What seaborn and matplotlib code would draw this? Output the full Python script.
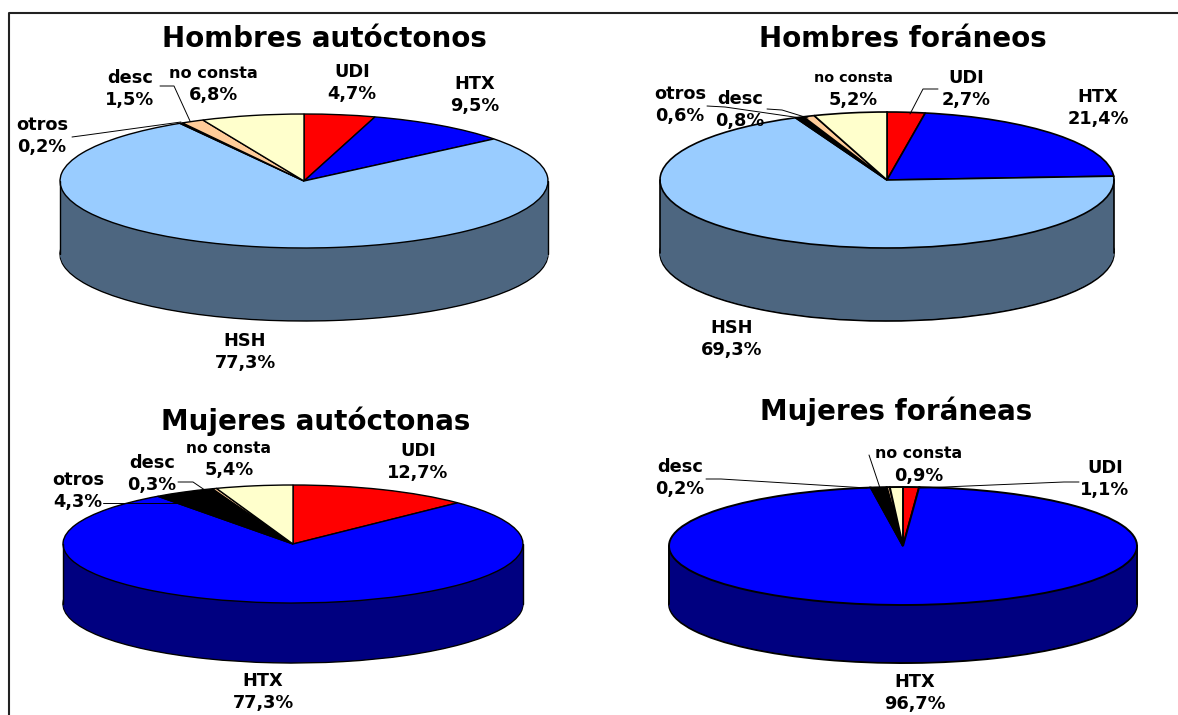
import numpy as np
import seaborn as sns
import matplotlib.pyplot as plt
from matplotlib.lines import Line2D

W, H = 1178, 715

# data, clockwise from 12 o'clock
cats_h = ["UDI", "HTX", "HSH", "otros", "desc", "no consta"]
cats_m = ["UDI", "HTX", "otros", "desc", "no consta"]
vals_ha = [4.7, 9.5, 77.3, 0.2, 1.5, 6.8]
vals_hf = [2.7, 21.4, 69.3, 0.6, 0.8, 5.2]
vals_ma = [12.7, 77.3, 4.3, 0.3, 5.4]
vals_mf = [1.1, 96.7, 1.1, 0.2, 0.9]  # otros has no label
txt_ha = ["4,7%", "9,5%", "77,3%", "0,2%", "1,5%", "6,8%"]
txt_hf = ["2,7%", "21,4%", "69,3%", "0,6%", "0,8%", "5,2%"]
txt_ma = ["12,7%", "77,3%", "4,3%", "0,3%", "5,4%"]
txt_mf = ["1,1%", "96,7%", None, "0,2%", "0,9%"]

top_col = {"UDI": "#FF0000", "HTX": "#0000FF", "HSH": "#99CCFF", "otros": "#000000",
           "desc": "#FFCC99", "no consta": "#FFFFCC"}
side_col = {"UDI": "#800000", "HTX": "#000080", "HSH": "#4D6680", "otros": "#000000",
            "desc": "#806650", "no consta": "#808066"}

# layout in pixels of the picture
charts = [
    dict(title="Hombres autóctonos", tpos=(324, 39), cats=cats_h, vals=vals_ha, txt=txt_ha,
         c=(304, 181), rx=244, ry=67, depth=73, lw=1.0, nc_size=11.6,
         pos=[(352, 83), (475, 95), (245, 352), (42, 136), (130, 89), (213, 84)],
         leaders=[[(72, 137), (87, 135), (181, 122)], [(160, 86), (174, 86), (190, 121)]]),
    dict(title="Hombres foráneos", tpos=(903, 39), cats=cats_h, vals=vals_hf, txt=txt_hf,
         c=(887, 180), rx=227, ry=68, depth=73, lw=1.2, nc_size=10.4,
         pos=[(966, 89), (1098, 108), (732, 339), (680, 105), (740, 110), (853, 89)],
         leaders=[[(707, 106), (725, 107), (801, 118)], [(767, 109), (782, 110), (808, 118)],
                  [(938, 89), (923, 89), (910, 114)]]),
    dict(title="Mujeres autóctonas", tpos=(316, 421), cats=cats_m, vals=vals_ma, txt=txt_ma,
         c=(293, 544), rx=230, ry=59, depth=60, lw=1.0, nc_size=11.2,
         pos=[(418, 462), (263, 692), (78, 491), (152, 474), (229, 459)],
         leaders=[[(103, 503), (120, 503), (186, 503)], [(178, 482), (193, 482), (218, 499)]]),
    dict(title="Mujeres foráneas", tpos=(896, 411), cats=cats_m, vals=vals_mf, txt=txt_mf,
         c=(903, 546), rx=234, ry=59, depth=58, lw=1.4, nc_size=11.4,
         pos=[(1105, 479), (915, 693), None, (680, 478), (919, 465)],
         leaders=[[(706, 479), (721, 479), (867, 488)], [(869, 455), (880, 488)],
                  [(1079, 482), (1064, 482), (920, 488)]]),
]

sns.set_theme(style="white")
plt.rcParams["font.family"] = ["DejaVu Sans"]

fig = plt.figure(figsize=(W / 100, H / 100), dpi=100, facecolor="white")


def fx(x):
    return x / W


def fy(y):
    return 1 - y / H


for ch in charts:
    cx, cy = ch["c"]
    rx, ry, depth = ch["rx"], ch["ry"], ch["depth"]
    m = 4  # spare pixels round the pie so outlines aren't clipped
    ax = fig.add_axes([fx(cx - rx - m), fy(cy + ry + depth + m),
                       (2 * rx + 2 * m) / W, (2 * ry + depth + 2 * m) / H])
    tops = [top_col[c] for c in ch["cats"]]
    sides = [side_col[c] for c in ch["cats"]]
    kw = dict(startangle=90, counterclock=False, normalize=True)
    edge = dict(linewidth=ch["lw"], edgecolor="black")

    # side wall, pies stacked from the bottom up
    d = depth / ry
    ax.pie(ch["vals"], center=(0, -d), colors=sides, wedgeprops=edge, **kw)
    for off in np.arange(depth - 1, 0, -1) / ry:
        ax.pie(ch["vals"], center=(0, -off), colors=sides, wedgeprops=dict(linewidth=0), **kw)
    ax.plot([-1, -1], [-d, 0], color="black", lw=ch["lw"])
    ax.plot([1, 1], [-d, 0], color="black", lw=ch["lw"])
    ax.pie(ch["vals"], center=(0, 0), colors=tops, wedgeprops=edge, **kw)

    ax.set_aspect("auto")
    ax.set_xlim(-1 - m / rx, 1 + m / rx)
    ax.set_ylim(-1 - d - m / ry, 1 + m / ry)
    ax.axis("off")

    fig.text(fx(ch["tpos"][0]), fy(ch["tpos"][1]), ch["title"], ha="center", va="center",
             fontsize=20, fontweight="bold", color="black")
    for name, t, p in zip(ch["cats"], ch["txt"], ch["pos"]):
        if t is None:
            continue
        size = ch["nc_size"] if name == "no consta" else 12.8
        fig.text(fx(p[0]), fy(p[1] - 11), name, ha="center", va="center", fontsize=size,
                 fontweight="bold", color="black", zorder=5)
        fig.text(fx(p[0]), fy(p[1] + 11), t, ha="center", va="center", fontsize=12.8,
                 fontweight="bold", color="black", zorder=5)
    for pts in ch["leaders"]:
        fig.add_artist(Line2D([fx(p[0]) for p in pts], [fy(p[1]) for p in pts], color="black", lw=0.7))

# frame, open on the right and at the bottom
fig.add_artist(Line2D([fx(9), fx(9), fx(W)], [fy(H), fy(13), fy(13)], color="#222222", lw=1.5))

fig.savefig("out.png", dpi=100)
